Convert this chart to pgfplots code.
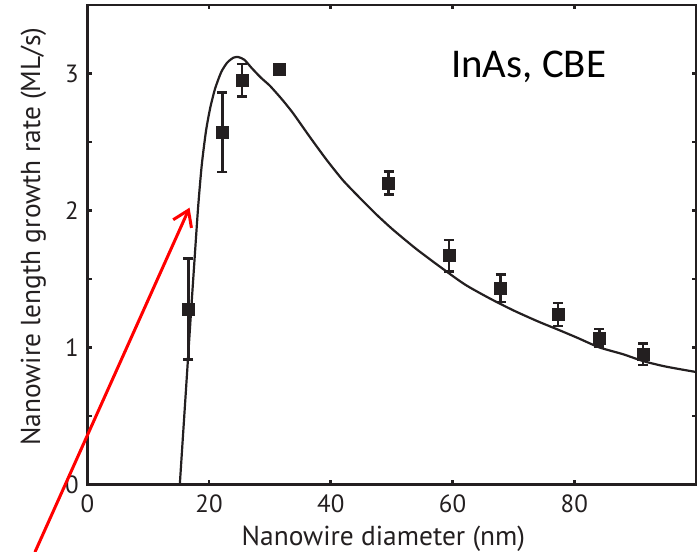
\documentclass[border=0pt]{standalone}
\usepackage{fontspec}
\setmainfont{PT Sans}
\newfontfamily\carlitofont{Carlito}
\usepackage{pgfplots}
\pgfplotsset{compat=1.18}
\usetikzlibrary{arrows.meta}
\definecolor{ink}{HTML}{231F20}
\begin{document}
\begin{tikzpicture}
\useasboundingbox (0,0) rectangle (698bp,552bp);
\begin{axis}[
  at={(87.3bp,67.7bp)}, anchor=south west,
  scale only axis, width=608.7bp, height=479.3bp,
  xmin=0, xmax=100, ymin=0, ymax=3.5,
  clip=false,
  axis line style={line width=2.8bp, ink},
  every tick/.style={line width=2.6bp, ink},
  major tick length=4.5bp,
  tick pos=both, tick align=inside,
  xtick={0,20,40,60,80},
  ytick={0,0.5,1,1.5,2,2.5,3},
  yticklabels={0,,1,,2,,3},
  /pgf/number format/assume math mode=true,
  tick label style={font=\fontsize{25}{29}\selectfont, text=ink, inner sep=0.5bp},
  xticklabel style={yshift=-10bp},
  yticklabel style={xshift=-8bp},
  label style={font=\fontsize{27.5}{31}\selectfont, text=ink},
  xlabel={Nanowire diameter (nm)},
  ylabel={Nanowire length growth rate (ML/s)},
  xlabel style={at={(axis description cs:0.4865,-0.1287)}, anchor=base},
  ylabel style={at={(axis description cs:-0.0777,0.517)}, anchor=base, rotate=0},
]
\addplot[ink, line width=2.2bp, smooth, tension=0.4] coordinates {
(15.2,0) (15.8,0.41) (16.4,0.82) (17.0,1.23) (17.6,1.63) (18.2,2.02)
(18.8,2.33) (19.5,2.58) (20.2,2.75) (21.0,2.89) (22.0,3.01) (23.0,3.08)
(24.0,3.115) (24.8,3.12) (25.8,3.10) (27.0,3.04) (28.5,2.97) (30.0,2.91)
(32.0,2.81) (33.8,2.71) (36.5,2.54) (39.3,2.37) (42.0,2.22) (44.8,2.09)
(47.5,1.97) (50.2,1.86) (54.0,1.72) (57.9,1.59) (62.0,1.46) (66.0,1.36)
(70.0,1.27) (74.0,1.19) (77.3,1.13) (80.5,1.07) (84.1,1.00) (88.0,0.95)
(91.3,0.90) (95.0,0.86) (100,0.82)
};
\addplot[ink, only marks, mark=square*, mark size=6bp,
  mark options={fill=ink, draw=ink, line width=0.5bp},
  error bars/.cd, y dir=both, y explicit,
  error bar style={line width=2.6bp, ink},
  error mark options={line width=2.6bp, mark size=5bp, rotate=90, ink}]
coordinates {
(16.6,1.28) +- (0,0.37)
(22.2,2.57) +- (0,0.29)
(25.4,2.95) +- (0,0.12)
(31.6,3.03) +- (0,0)
(49.5,2.20) +- (0,0.085)
(59.4,1.67) +- (0,0.115)
(67.9,1.43) +- (0,0.10)
(77.3,1.24) +- (0,0.085)
(84.1,1.07) +- (0,0.065)
(91.3,0.95) +- (0,0.08)
};
\node[anchor=base, font=\carlitofont\fontsize{41}{46}\selectfont, text=black] at (axis cs:72.5,2.97) {InAs, CBE};
\draw[red, line width=3bp, -{Straight Barb[length=15bp,width=20bp]}] (axis cs:-8.6,-0.495) -- (axis cs:16.8,2.02);
\end{axis}
\end{tikzpicture}
\end{document}
